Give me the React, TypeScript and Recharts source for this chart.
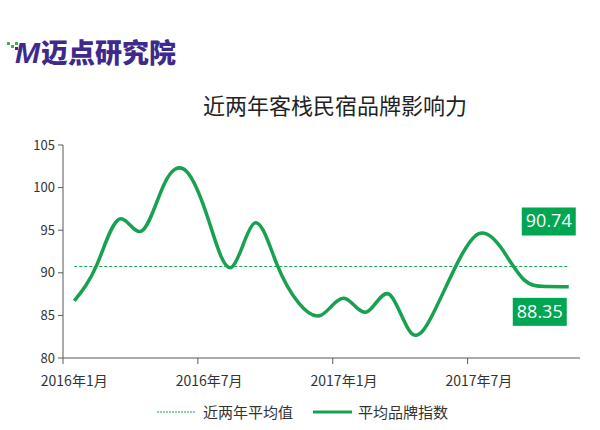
import React from "react";
import { LabelList, Line, LineChart, XAxis, YAxis } from "recharts";

const months = [
  "2016年1月", "2016年2月", "2016年3月", "2016年4月", "2016年5月", "2016年6月",
  "2016年7月", "2016年8月", "2016年9月", "2016年10月", "2016年11月", "2016年12月",
  "2017年1月", "2017年2月", "2017年3月", "2017年4月", "2017年5月", "2017年6月",
  "2017年7月", "2017年8月", "2017年9月", "2017年10月", "2017年11月",
];

const brandIndex = [
  86.7, 90.9, 96.3, 94.9, 100.4, 101.9, 96.0, 90.65, 95.8, 91.1, 86.4, 85.05,
  87.0, 85.4, 87.5, 82.9, 85.4, 90.9, 94.6, 92.9, 89.2, 88.4, 88.35,
];

const AVERAGE = 90.74;
const yTicks = [80, 85, 90, 95, 100, 105];

const GREEN = "#17a150";
const BOX = "#00a651";
const FONT = "'Noto Sans CJK SC', 'Noto Sans', sans-serif";

const data = months.map((month, i) => ({ month, index: brandIndex[i], avg: AVERAGE }));

const PLOT_BOTTOM = 358;
const HALF_BAND = 11.24;

function MonthTick(props: any) {
  const { x, payload } = props;
  return (
    <g>
      <line x1={x - HALF_BAND} x2={x - HALF_BAND} y1={PLOT_BOTTOM} y2={PLOT_BOTTOM + 6} stroke="#595959" />
      <text x={x} y={PLOT_BOTTOM + 28} textAnchor="middle" fontSize={14} fill="#333" fontFamily={FONT}>
        {payload.value}
      </text>
    </g>
  );
}

function lastBox(dx: number, dy: number, last: number) {
  return (props: any) => {
    const { x, y, value, index } = props;
    if (index !== last) return null;
    const w = 54;
    const h = 28;
    const cx = x + dx;
    const top = y + dy;
    return (
      <g>
        <rect x={cx - w / 2} y={top} width={w} height={h} fill={BOX} />
        <text x={cx} y={top + 20} textAnchor="middle" fontSize={18} fill="#fff" fontFamily="'Open Sans', sans-serif">
          {Number(value).toFixed(2)}
        </text>
      </g>
    );
  };
}

export default function App() {
  const last = data.length - 1;
  return (
    <div style={{ position: "absolute", left: 0, top: 0, width: 600, height: 430, background: "#fff", fontFamily: FONT }}>
      {/* logo */}
      <div style={{ position: "absolute", left: 7, top: 42, width: 11, height: 9 }}>
        <div style={{ position: "absolute", left: 0, top: 0, width: 3, height: 3, background: "#3cb44b" }} />
        <div style={{ position: "absolute", left: 4, top: 3, width: 3, height: 3, background: "#3cb44b" }} />
        <div style={{ position: "absolute", left: 8, top: 0, width: 3, height: 3, background: "#3cb44b" }} />
        <div style={{ position: "absolute", left: 8, top: 5, width: 3, height: 3, background: "#3d2a8c" }} />
      </div>
      <div style={{ position: "absolute", left: 15, top: 32, fontSize: 27, fontWeight: 900, color: "#3d2a8c", whiteSpace: "nowrap" }}>
        <span style={{ fontStyle: "italic", fontFamily: "'Liberation Sans', sans-serif", fontSize: 30, marginRight: 1 }}>M</span>
        <span>迈</span>
        <span style={{ color: "#3d2a8c" }}>点</span>
        <span>研究院</span>
      </div>

      {/* title */}
      <div style={{ position: "absolute", left: 0, width: 670, top: 88, textAlign: "center", fontSize: 22, color: "#222" }}>
        近两年客栈民宿品牌影响力
      </div>

      <div style={{ position: "absolute", left: 0, top: 0 }}>
        <LineChart width={600} height={430} data={data} margin={{ top: 145, right: 20, bottom: 42, left: 0 }}>
          <XAxis
            dataKey="month"
            interval={5}
            padding={{ left: HALF_BAND, right: HALF_BAND }}
            tickLine={false}
            axisLine={{ stroke: "#595959" }}
            tick={<MonthTick />}
            height={30}
          />
          <YAxis
            domain={[80, 105]}
            ticks={yTicks}
            width={63}
            tickSize={5}
            tickMargin={3}
            axisLine={{ stroke: "#595959" }}
            tickLine={{ stroke: "#595959" }}
            tick={{ fontSize: 13, fill: "#333", fontFamily: FONT }}
          />
          <Line
            dataKey="avg"
            stroke={GREEN}
            strokeWidth={1}
            strokeDasharray="3 2"
            dot={false}
            activeDot={false}
            isAnimationActive={false}
          >
            <LabelList dataKey="avg" content={lastBox(-20, -59, last)} />
          </Line>
          <Line
            dataKey="index"
            type="natural"
            stroke={GREEN}
            strokeWidth={3.5}
            dot={false}
            activeDot={false}
            isAnimationActive={false}
          >
            <LabelList dataKey="index" content={lastBox(-29, 11, last)} />
          </Line>
        </LineChart>
      </div>

      {/* legend */}
      <svg style={{ position: "absolute", left: 0, top: 400 }} width={600} height={30}>
        <line x1={157} x2={195} y1={12} y2={12} stroke={GREEN} strokeWidth={1} strokeDasharray="2 1" />
        <text x={203} y={18} fontSize={15} fill="#333" fontFamily={FONT}>近两年平均值</text>
        <line x1={313} x2={352} y1={12} y2={12} stroke={GREEN} strokeWidth={3} />
        <text x={358} y={18} fontSize={15} fill="#333" fontFamily={FONT}>平均品牌指数</text>
      </svg>
    </div>
  );
}
